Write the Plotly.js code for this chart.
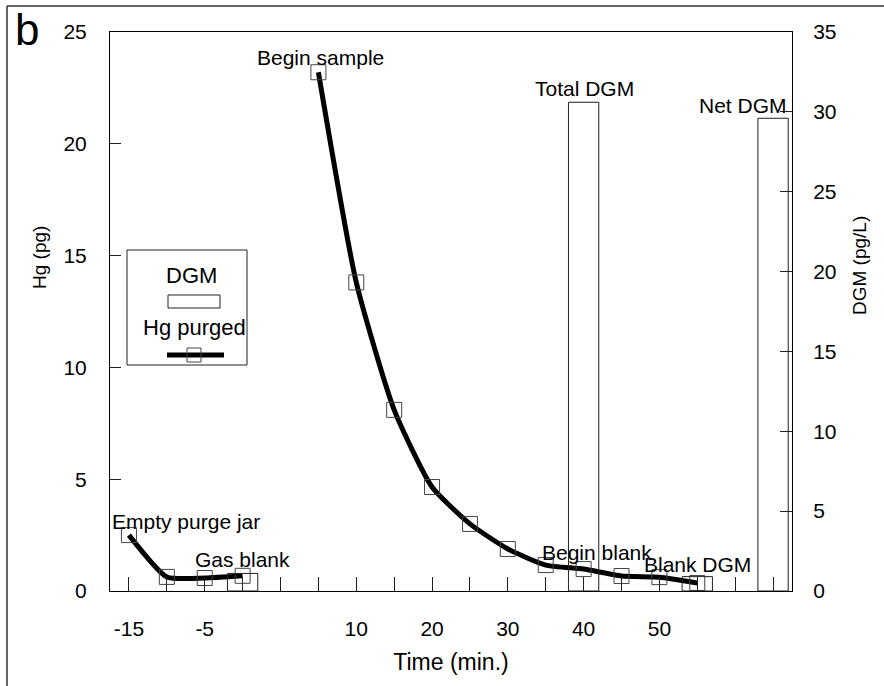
<!DOCTYPE html>
<html>
<head>
<meta charset="utf-8">
<script src="https://cdn.plot.ly/plotly-3.0.1.min.js"></script>
<style>html,body{margin:0;padding:0;background:#fff;}#chart{width:884px;height:686px;}</style>
</head>
<body>
<div id="chart"></div>
<script>
// ---- data ----
const categories = ['-15','-10','-5','0','gap1','5','10','15','20','25','30','35','40','45','50','55','gap2','Net'];
const tickLabels = ['-15','','-5','','','','10','','20','','30','','40','','50','','',''];
const hgPurged = [2.5, 0.63, 0.58, 0.68, null, 23.2, 13.8, 8.1, 4.65, 3.0, 1.88, 1.16, 0.98, 0.67, 0.62, 0.36, null, null];
const dgmCategories = ['0','40','55','Net'];
const dgmValues = [1.1, 30.6, 0.9, 29.6];
const pointLabels = ['Empty purge jar','Gas blank','Begin sample','Begin blank','Blank DGM'];
const barLabels = ['Total DGM','Net DGM'];

// ---- layout helpers (pixel -> paper) ----
const W = 884, H = 686;
const M = {l: 110, r: 92, t: 32, b: 95};
const pw = W - M.l - M.r, ph = H - M.t - M.b;
const fx = p => (p - M.l) / pw;
const fy = p => (H - M.b - p) / ph;
const FONT = 'Liberation Sans, Arial, Helvetica, sans-serif';

const idx = c => categories.indexOf(c);

const traces = [
  {
    type: 'bar', x: dgmCategories, y: dgmValues, yaxis: 'y2', name: 'DGM',
    marker: {color: 'rgba(0,0,0,0)', line: {color: '#222', width: 1}},
    showlegend: false, hoverinfo: 'x+y'
  },
  {
    type: 'scatter', mode: 'lines+markers', x: categories, y: hgPurged, name: 'Hg purged',
    connectgaps: false,
    line: {color: '#000', width: 5, shape: 'spline', smoothing: 0.55},
    marker: {symbol: 'square-open', size: 15, color: '#444', line: {width: 1, color: '#444'}},
    showlegend: false
  }
];

const ann = [];
const tf = {family: FONT, size: 21, color: '#000'};
// point labels anchored to data points (category index positions)
ann.push({x: idx('-15'), y: hgPurged[idx('-15')], xref: 'x', yref: 'y', text: pointLabels[0], showarrow: false, xanchor: 'left', yanchor: 'middle', xshift: -19, yshift: 14, font: tf});
ann.push({x: idx('0'), y: hgPurged[idx('0')], xref: 'x', yref: 'y', text: pointLabels[1], showarrow: false, xanchor: 'center', yanchor: 'middle', xshift: 0, yshift: 16, font: tf});
ann.push({x: idx('5'), y: hgPurged[idx('5')], xref: 'x', yref: 'y', text: pointLabels[2], showarrow: false, xanchor: 'center', yanchor: 'middle', xshift: 2, yshift: 15, font: tf});
ann.push({x: idx('35'), y: hgPurged[idx('35')], xref: 'x', yref: 'y', text: pointLabels[3], showarrow: false, xanchor: 'left', yanchor: 'middle', xshift: -6, yshift: 13, font: tf});
ann.push({x: idx('55'), y: hgPurged[idx('55')], xref: 'x', yref: 'y', text: pointLabels[4], showarrow: false, xanchor: 'center', yanchor: 'middle', xshift: 0, yshift: 18, font: tf});
// bar labels
ann.push({x: idx('40'), y: dgmValues[1], xref: 'x', yref: 'y2', text: barLabels[0], showarrow: false, xanchor: 'center', yanchor: 'middle', xshift: 1, yshift: 14, font: tf});
ann.push({x: idx('Net'), y: dgmValues[3], xref: 'x', yref: 'y2', text: barLabels[1], showarrow: false, xanchor: 'right', yanchor: 'middle', xshift: 16, yshift: 13, font: tf});
// y titles
ann.push({x: fx(39), y: fy(258), xref: 'paper', yref: 'paper', text: 'Hg (pg)', textangle: -90, showarrow: false, xanchor: 'center', yanchor: 'middle', font: {family: FONT, size: 19, color: '#000'}});
ann.push({x: fx(859), y: fy(265), xref: 'paper', yref: 'paper', text: 'DGM (pg/L)', textangle: -90, showarrow: false, xanchor: 'center', yanchor: 'middle', font: {family: FONT, size: 19, color: '#000'}});
// panel letter
ann.push({x: fx(27), y: fy(30), xref: 'paper', yref: 'paper', text: 'b', showarrow: false, xanchor: 'center', yanchor: 'middle', font: {family: FONT, size: 44, color: '#000'}});
// legend texts
ann.push({x: fx(191), y: fy(275), xref: 'paper', yref: 'paper', text: 'DGM', showarrow: false, xanchor: 'center', yanchor: 'middle', font: {family: FONT, size: 22, color: '#000'}});
ann.push({x: fx(194), y: fy(327), xref: 'paper', yref: 'paper', text: 'Hg purged', showarrow: false, xanchor: 'center', yanchor: 'middle', font: {family: FONT, size: 22, color: '#000'}});

const shapes = [
  // outer figure frame (left & top)
  {type: 'line', xref: 'paper', yref: 'paper', x0: fx(7), x1: fx(7), y0: fy(6), y1: fy(690), line: {color: '#333', width: 1.5}},
  {type: 'line', xref: 'paper', yref: 'paper', x0: fx(7), x1: fx(890), y0: fy(6), y1: fy(6), line: {color: '#333', width: 1.5}},
  // legend box
  {type: 'rect', xref: 'paper', yref: 'paper', x0: fx(127), x1: fx(247), y0: fy(365), y1: fy(250), line: {color: '#222', width: 1}, fillcolor: '#fff', layer: 'above'},
  {type: 'rect', xref: 'paper', yref: 'paper', x0: fx(168), x1: fx(220), y0: fy(308), y1: fy(295), line: {color: '#222', width: 1}, layer: 'above'},
  {type: 'line', xref: 'paper', yref: 'paper', x0: fx(167), x1: fx(224), y0: fy(355), y1: fy(355), line: {color: '#000', width: 5}, layer: 'above'},
  {type: 'rect', xref: 'paper', yref: 'paper', x0: fx(187), x1: fx(201), y0: fy(362), y1: fy(348), line: {color: '#444', width: 1}, layer: 'above'}
];

const layout = {
  width: W, height: H,
  margin: M,
  paper_bgcolor: '#fff', plot_bgcolor: '#fff',
  showlegend: false,
  bargap: 0.2,
  font: {family: FONT, color: '#000'},
  xaxis: {
    type: 'category', categoryorder: 'array', categoryarray: categories,
    range: [-0.5, categories.length - 0.5],
    tickmode: 'array', tickvals: categories, ticktext: tickLabels,
    ticks: 'inside', ticklen: 14, tickwidth: 1, tickcolor: '#222',
    showline: true, linecolor: '#000', linewidth: 1, mirror: true,
    showgrid: false, zeroline: false,
    tickfont: {family: FONT, size: 21, color: '#000'},
    ticklabelstandoff: 19,
    title: {text: 'Time (min.)', font: {family: FONT, size: 23, color: '#000'}, standoff: 14}
  },
  yaxis: {
    range: [0, 25], dtick: 5, tick0: 0,
    ticks: 'inside', ticklen: 11, tickwidth: 1, tickcolor: '#222',
    showline: true, linecolor: '#000', linewidth: 1,
    showgrid: false, zeroline: false,
    tickfont: {family: FONT, size: 21, color: '#000'},
    ticklabelstandoff: 18
  },
  yaxis2: {
    range: [0, 35], dtick: 5, tick0: 0, overlaying: 'y', side: 'right',
    ticks: 'inside', ticklen: 12, tickwidth: 1, tickcolor: '#222',
    showline: true, linecolor: '#000', linewidth: 1,
    showgrid: false, zeroline: false,
    tickfont: {family: FONT, size: 21, color: '#000'},
    ticklabelstandoff: 16
  },
  annotations: ann,
  shapes: shapes
};

Plotly.newPlot('chart', traces, layout, {displayModeBar: false, staticPlot: true});
</script>
</body>
</html>
